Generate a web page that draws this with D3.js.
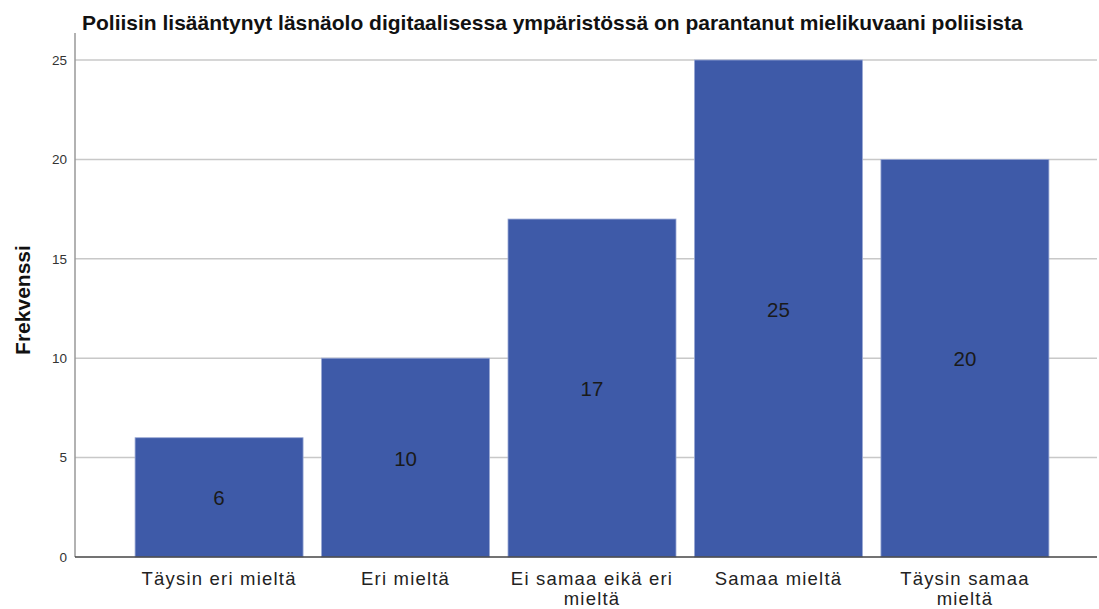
<!DOCTYPE html>
<html>
<head>
<meta charset="utf-8">
<script src="https://cdn.jsdelivr.net/npm/d3@7"></script>
<style>
  html, body { margin: 0; padding: 0; background: #fff; }
  svg { display: block; font-family: "Liberation Sans", Arial, sans-serif; }
</style>
</head>
<body>
<svg id="chart" width="1099" height="609"></svg>
<script>
// Response categories (label lines) and their frequencies
const categories = [
  ["Täysin eri mieltä"],
  ["Eri mieltä"],
  ["Ei samaa eikä eri", "mieltä"],
  ["Samaa mieltä"],
  ["Täysin samaa", "mieltä"]
];
const frequencies = [6, 10, 17, 25, 20];
const yTicks = [0, 5, 10, 15, 20, 25];
const title = "Poliisin lisääntynyt läsnäolo digitaalisessa ympäristössä on parantanut mielikuvaani poliisista";
const yTitle = "Frekvenssi";

const svg = d3.select("#chart");
const plot = { left: 75, right: 1097, top: 33, bottom: 557 };

const keys = categories.map((c, i) => i);
const x = d3.scaleBand()
  .domain(keys)
  .range([125.75, 1058.25])
  .paddingInner(0.099)
  .paddingOuter(0.05);

const y = d3.scaleLinear()
  .domain([0, 25])
  .range([plot.bottom, 60]);

// horizontal gridlines
svg.append("g")
  .selectAll("line")
  .data(yTicks.filter(t => t > 0))
  .join("line")
  .attr("x1", plot.left)
  .attr("x2", plot.right)
  .attr("y1", d => y(d))
  .attr("y2", d => y(d))
  .attr("stroke", "#c8c8c8")
  .attr("stroke-width", 1.5);

// bars
svg.append("g")
  .selectAll("rect")
  .data(frequencies)
  .join("rect")
  .attr("x", (d, i) => x(i))
  .attr("y", d => y(d))
  .attr("width", x.bandwidth())
  .attr("height", d => y(0) - y(d))
  .attr("fill", "#3e5aa8")
  .attr("stroke", "#9aa8d4")
  .attr("stroke-width", 0.8);

// value labels in the middle of each bar
svg.append("g")
  .selectAll("text")
  .data(frequencies)
  .join("text")
  .attr("x", (d, i) => x(i) + x.bandwidth() / 2)
  .attr("y", d => (y(d) + y(0)) / 2 + 8)
  .attr("text-anchor", "middle")
  .attr("font-size", 20.5)
  .attr("fill", "#1a1a1a")
  .text(d => d);

// y axis
const yAxis = d3.axisLeft(y).tickValues(yTicks).tickSize(0).tickPadding(8);
const yg = svg.append("g").attr("transform", `translate(${plot.left},0)`).call(yAxis);
yg.select(".domain").remove();
yg.selectAll("text").attr("font-size", 13.5).attr("fill", "#333").attr("font-family", "Liberation Sans, Arial, sans-serif");
svg.append("line")
  .attr("x1", plot.left).attr("x2", plot.left)
  .attr("y1", plot.top).attr("y2", plot.bottom)
  .attr("stroke", "#999").attr("stroke-width", 1.5);

// x axis
const xAxis = d3.axisBottom(x).tickSize(0).tickFormat(() => "");
const xg = svg.append("g").attr("transform", `translate(0,${plot.bottom})`).call(xAxis);
xg.select(".domain").remove();
svg.append("line")
  .attr("x1", plot.left).attr("x2", plot.right)
  .attr("y1", plot.bottom).attr("y2", plot.bottom)
  .attr("stroke", "#444").attr("stroke-width", 1.5);

xg.selectAll(".tick").each(function(d) {
  const t = d3.select(this).append("text")
    .attr("text-anchor", "middle")
    .attr("font-size", 18.5)
    .attr("letter-spacing", 1.2)
    .attr("fill", "#222")
    .attr("font-family", "Liberation Sans, Arial, sans-serif");
  categories[d].forEach((line, j) => {
    t.append("tspan").attr("x", 0).attr("y", 28 + j * 20).text(line);
  });
});

// y axis title
svg.append("text")
  .attr("transform", "translate(30,300) rotate(-90)")
  .attr("text-anchor", "middle")
  .attr("font-size", 21)
  .attr("font-weight", "bold")
  .attr("fill", "#111")
  .text(yTitle);

// chart title
svg.append("text")
  .attr("x", 82)
  .attr("y", 30)
  .attr("font-size", 21)
  .attr("font-weight", "bold")
  .attr("fill", "#111")
  .text(title);
</script>
</body>
</html>
